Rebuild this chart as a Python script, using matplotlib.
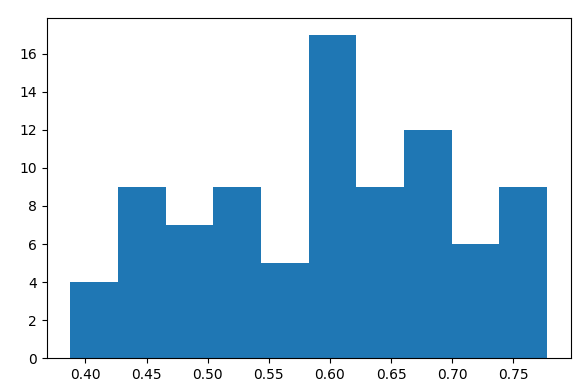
import matplotlib
matplotlib.use("Agg")
import matplotlib.pyplot as plt
import numpy as np

# histogram bin edges and counts
lo, hi = 0.3877, 0.7776
counts = [4, 9, 7, 9, 5, 17, 9, 12, 6, 9]

edges = np.linspace(lo, hi, len(counts) + 1)

fig = plt.figure(figsize=(5.83, 3.92), dpi=100)
ax = fig.add_axes([0.080, 0.086, 0.899, 0.867])
ax.hist(edges[:-1], bins=edges, weights=counts, color="#1f77b4")
ax.set_yticks(range(0, 17, 2))
ax.set_xticks([0.40, 0.45, 0.50, 0.55, 0.60, 0.65, 0.70, 0.75])
fig.savefig("out.png")
